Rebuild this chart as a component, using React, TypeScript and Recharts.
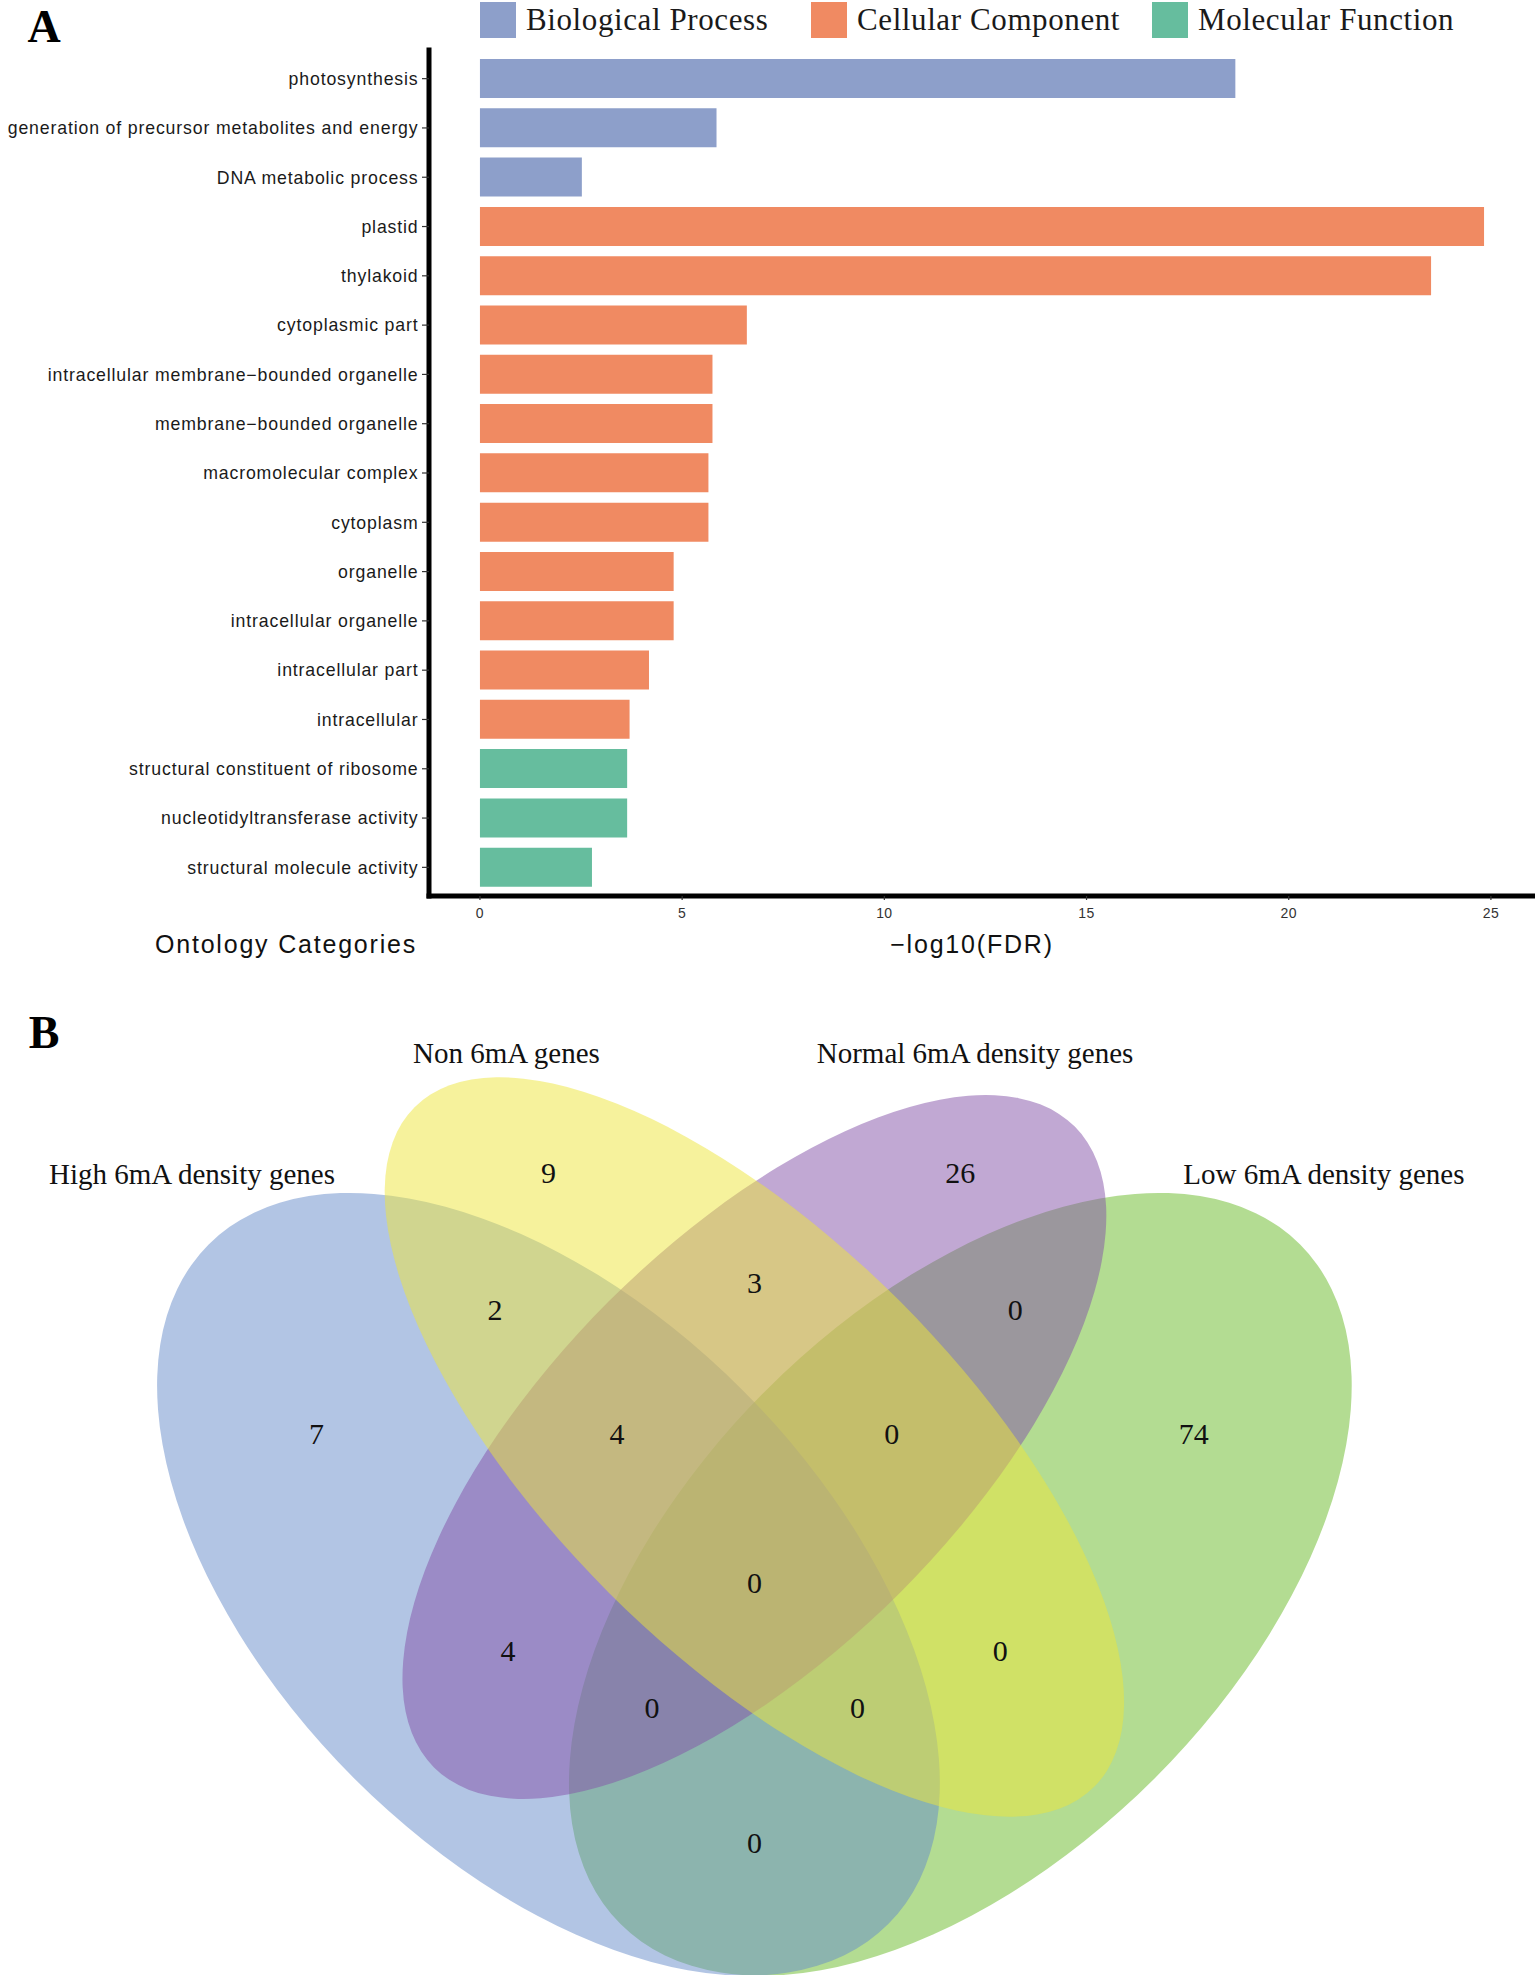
import React from "react";
import { BarChart, Bar, XAxis, YAxis, Cell, ScatterChart, Scatter } from "recharts";

// ---- panel A data ----
const terms = [
  "photosynthesis",
  "generation of precursor metabolites and energy",
  "DNA metabolic process",
  "plastid",
  "thylakoid",
  "cytoplasmic part",
  "intracellular membrane−bounded organelle",
  "membrane−bounded organelle",
  "macromolecular complex",
  "cytoplasm",
  "organelle",
  "intracellular organelle",
  "intracellular part",
  "intracellular",
  "structural constituent of ribosome",
  "nucleotidyltransferase activity",
  "structural molecule activity",
];
const negLog10Fdr = [18.68, 5.85, 2.52, 24.83, 23.52, 6.6, 5.75, 5.75, 5.65, 5.65, 4.79, 4.79, 4.18, 3.7, 3.64, 3.64, 2.77];
const ontology = ["BP", "BP", "BP", "CC", "CC", "CC", "CC", "CC", "CC", "CC", "CC", "CC", "CC", "CC", "MF", "MF", "MF"];
const ontologyKeys = ["BP", "CC", "MF"];
const ontologyNames = ["Biological Process", "Cellular Component", "Molecular Function"];
const xTicks = [0, 5, 10, 15, 20, 25];

// ---- panel B data ----
const setNames = ["High 6mA density genes", "Non 6mA genes", "Normal 6mA density genes", "Low 6mA density genes"];
// High, Non, Normal, Low, H∩Nn, Nn∩Nr, Nr∩L, H∩Nn∩Nr, Nn∩Nr∩L, all, H∩Nr, Nn∩L, H∩Nr∩L, H∩Nn∩L, H∩L
const regionCounts = [7, 9, 26, 74, 2, 3, 0, 4, 0, 0, 4, 0, 0, 0, 0];

// ---- styling / layout ----
const ONTOLOGY_COLORS: Record<string, string> = { BP: "#8d9fca", CC: "#f08a62", MF: "#66bd9e" };
const LEGEND_LEFT = [480, 811, 1152];
const SANS = "'Liberation Sans', Arial, Helvetica, sans-serif";
const SERIF = "'Liberation Serif', 'Times New Roman', Times, serif";

// venn layout in unit coordinates (same layout as VennDiagram's quad venn)
const PX_PER_UNIT = 1373;
const VENN_TOP = 990;
const VENN_H = 985;
const VENN_W = 1535;
const X_MIN = 0.5 - 754.4 / PX_PER_UNIT;
const X_MAX = X_MIN + VENN_W / PX_PER_UNIT;
const Y_MAX = 0.57 + (1447 - VENN_TOP) / PX_PER_UNIT;
const Y_MIN = Y_MAX - VENN_H / PX_PER_UNIT;

// draw order: Low, High, Normal, Non
const ellipses = [
  { set: 3, x: 0.65, y: 0.47, a: 0.35, b: 0.2, rot: 45, fill: "#67b925" },
  { set: 0, x: 0.35, y: 0.47, a: 0.35, b: 0.2, rot: 135, fill: "#658bc9" },
  { set: 2, x: 0.5, y: 0.57, a: 0.33, b: 0.15, rot: 45, fill: "#8351a7" },
  { set: 1, x: 0.5, y: 0.57, a: 0.35, b: 0.15, rot: 135, fill: "#ede539" },
];
const regionSpots = [
  [0.181, 0.58], [0.35, 0.77], [0.65, 0.77], [0.82, 0.58],
  [0.311, 0.67], [0.5, 0.69], [0.69, 0.67],
  [0.4, 0.58], [0.6, 0.58], [0.5, 0.471],
  [0.3205, 0.422], [0.679, 0.422],
  [0.4254, 0.38], [0.575, 0.38], [0.5, 0.282],
];
const setLabelSpots = [[0.0904, 0.7688], [0.3194, 0.857], [0.6607, 0.857], [0.9148, 0.7688]];

const barData = terms.map((term, i) => ({ term, value: negLog10Fdr[i], ont: ontology[i] }));
const regionData = regionCounts.map((count, i) => ({ x: regionSpots[i][0], y: regionSpots[i][1], count }));
const setLabelData = setNames.map((name, i) => ({ x: setLabelSpots[i][0], y: setLabelSpots[i][1], name }));

const YTick = (p: any) => (
  <text x={p.x} y={p.y} dy="0.355em" textAnchor="end" fontSize={17.7} letterSpacing={0.85} fill="#1a1a1a" fontFamily={SANS}>
    {p.payload.value}
  </text>
);

const XTick = (p: any) => (
  <text x={p.x} y={p.y} dy="0.71em" textAnchor="middle" fontSize={14} letterSpacing={0.4} fill="#333" fontFamily={SANS}>
    {p.payload.value}
  </text>
);

const EllipseShape = (p: any) => {
  const e = p.payload;
  return (
    <ellipse
      cx={p.cx}
      cy={p.cy}
      rx={e.a * PX_PER_UNIT}
      ry={e.b * PX_PER_UNIT}
      transform={`rotate(${-e.rot} ${p.cx} ${p.cy})`}
      fill={e.fill}
      fillOpacity={0.5}
      stroke="none"
    />
  );
};

const CountShape = (p: any) => (
  <text x={p.cx} y={p.cy} textAnchor="middle" dominantBaseline="central" fontSize={30} fill="#111" fontFamily={SERIF}>
    {p.payload.count}
  </text>
);

const SetLabelShape = (p: any) => (
  <text x={p.cx} y={p.cy} textAnchor="middle" dominantBaseline="central" fontSize={29} fill="#111" fontFamily={SERIF}>
    {p.payload.name}
  </text>
);

const panelLetter = { position: "absolute", left: 20, width: 48, lineHeight: "normal", fontSize: 46, fontWeight: "bold", fontFamily: SERIF, textAlign: "center" } as const;

export default function App() {
  return (
    <div style={{ position: "absolute", left: 0, top: 0, width: 1535, height: 1975, background: "#fff", overflow: "hidden" }}>
      <div style={{ ...panelLetter, top: 0 }}>A</div>
      <div style={{ ...panelLetter, top: 1006 }}>B</div>

      {ontologyKeys.map((k, i) => (
        <div key={k} style={{ position: "absolute", left: LEGEND_LEFT[i], top: 2, height: 36, display: "flex", alignItems: "center" }}>
          <div style={{ width: 36, height: 36, background: ONTOLOGY_COLORS[k] }} />
          <span style={{ marginLeft: 10, fontFamily: SERIF, fontSize: 31, letterSpacing: 0.6, color: "#1a1a1a", whiteSpace: "nowrap" }}>{ontologyNames[i]}</span>
        </div>
      ))}

      <div style={{ position: "absolute", left: 0, top: 0 }}>
        <BarChart width={1535} height={970} data={barData} layout="vertical" margin={{ top: 50, right: 0, bottom: 0, left: 0 }}>
          <XAxis
            type="number"
            domain={[-1.26, 26.09]}
            ticks={xTicks}
            allowDataOverflow
            height={74}
            axisLine={{ stroke: "#000", strokeWidth: 5, strokeLinecap: "square" }}
            tickLine={{ stroke: "#333", strokeWidth: 1.2 }}
            tickSize={4}
            tickMargin={8}
            tick={XTick}
          />
          <YAxis
            type="category"
            dataKey="term"
            width={429}
            interval={0}
            padding={{ top: 4, bottom: 4 }}
            axisLine={{ stroke: "#000", strokeWidth: 5, strokeLinecap: "square" }}
            tickLine={{ stroke: "#333", strokeWidth: 1.2 }}
            tickSize={7}
            tickMargin={3.5}
            tick={YTick}
          />
          <Bar dataKey="value" barSize={39} isAnimationActive={false}>
            {barData.map((d, i) => (
              <Cell key={`bar-${i}`} fill={ONTOLOGY_COLORS[d.ont]} />
            ))}
          </Bar>
        </BarChart>
      </div>

      <div style={{ position: "absolute", left: 26, top: 929, width: 520, textAlign: "center", lineHeight: "30px", fontSize: 25, letterSpacing: 1.8, fontFamily: SANS, color: "#111" }}>
        Ontology Categories
      </div>
      <div style={{ position: "absolute", left: 772, top: 929, width: 400, textAlign: "center", lineHeight: "30px", fontSize: 25, letterSpacing: 1.8, fontFamily: SANS, color: "#111" }}>
        −log10(FDR)
      </div>

      <div style={{ position: "absolute", left: 0, top: VENN_TOP }}>
        <ScatterChart width={VENN_W} height={VENN_H} margin={{ top: 0, right: 0, bottom: 0, left: 0 }}>
          <XAxis type="number" dataKey="x" domain={[X_MIN, X_MAX]} hide />
          <YAxis type="number" dataKey="y" domain={[Y_MIN, Y_MAX]} hide />
          <Scatter data={ellipses} shape={EllipseShape} isAnimationActive={false} />
          <Scatter data={regionData} shape={CountShape} isAnimationActive={false} />
          <Scatter data={setLabelData} shape={SetLabelShape} isAnimationActive={false} />
        </ScatterChart>
      </div>
    </div>
  );
}
